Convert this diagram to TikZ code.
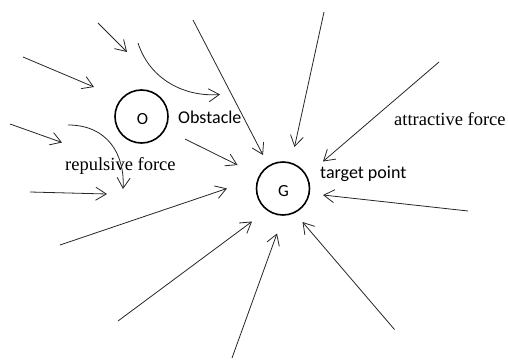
\documentclass[tikz,border=0pt]{standalone}
\usepackage{fontspec}
\setmainfont{Liberation Serif}
\newfontfamily\calfont{Carlito}
\usetikzlibrary{arrows.meta}
\tikzset{
  force/.style={draw=black!85, line width=0.8pt, -{Straight Barb[length=10.5pt, width=13pt, line width=0.8pt]}},
  pointnode/.style={circle, draw=black, line width=1.6pt, minimum size=53pt, inner sep=0pt},
  pointletter/.style={inner sep=0pt, font=\calfont\fontsize{17}{20}\selectfont},
  sanslabel/.style={anchor=base west, inner sep=0pt, font=\calfont\fontsize{18}{22}\selectfont},
  seriflabel/.style={anchor=base west, inner sep=0pt, font=\fontsize{18.5}{22}\selectfont}
}
\begin{document}
\begin{tikzpicture}[x=1pt, y=-1pt]
\useasboundingbox (0,0) rectangle (508,359);

% obstacle and target
\node[pointnode] (O) at (141.5,116.5) {};
\node[pointletter] (Oletter) at (142.5,119) {O};
\node[pointnode] (G) at (283,188.5) {};
\node[pointletter] (Gletter) at (283.5,191) {G};

% labels
\node[sanslabel] (obstlabel) at (178,123) {Obstacle};
\node[sanslabel] (targetlabel) at (320,178) {target point};
\node[seriflabel] (attrlabel) at (394,125) {attractive force};
\node[seriflabel] (replabel) at (65,170.5) {repulsive force};

% attractive forces pointing at G
\coordinate (a1s) at (193,20);   \coordinate (a1e) at (263,155);
\coordinate (a2s) at (324,12);   \coordinate (a2e) at (294.5,147);
\coordinate (a3s) at (439,62);   \coordinate (a3e) at (323,161.5);
\coordinate (a4s) at (468,211);  \coordinate (a4e) at (323,195);
\coordinate (a5s) at (394.5,329.5); \coordinate (a5e) at (302.5,222);
\coordinate (a6s) at (232,358);  \coordinate (a6e) at (277,233.5);
\coordinate (a7s) at (118,321);  \coordinate (a7e) at (252,221.5);
\coordinate (a8s) at (60,245);   \coordinate (a8e) at (227,188.5);
\coordinate (a9s) at (185,139);  \coordinate (a9e) at (237.5,165);

\foreach \i in {1,...,9} {
  \draw[force] (a\i s) -- (a\i e);
}

% forces on the left, around the obstacle
\coordinate (b1s) at (98,23);   \coordinate (b1e) at (127,52);
\coordinate (b2s) at (23,57);   \coordinate (b2e) at (94,87);
\coordinate (b3s) at (10,124);  \coordinate (b3e) at (62,142.5);
\coordinate (b4s) at (30,192);  \coordinate (b4e) at (107,194);
\foreach \i in {1,...,4} {
  \draw[force] (b\i s) -- (b\i e);
}

% repulsive forces bending round the obstacle
\coordinate (r1s) at (138,43);  \coordinate (r1e) at (220,94.5);
\coordinate (r2s) at (68,125);  \coordinate (r2e) at (123,189);
\draw[force] (r1s) .. controls (150,80) and (185,97) .. (r1e);
\draw[force] (r2s) .. controls (108,125) and (125,155) .. (r2e);
\end{tikzpicture}
\end{document}
